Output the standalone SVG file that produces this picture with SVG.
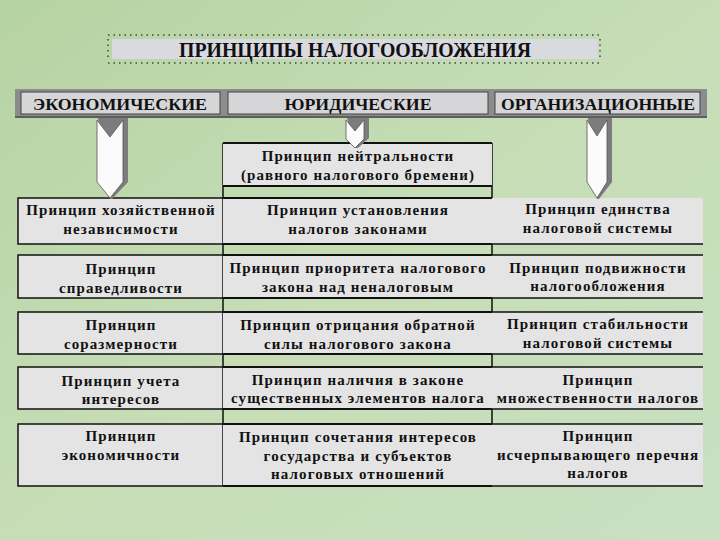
<svg xmlns="http://www.w3.org/2000/svg" width="720" height="540" viewBox="0 0 720 540">
<defs>
<linearGradient id="bg" x1="0" y1="0" x2="1" y2="1">
<stop offset="0" stop-color="#b6d3a3"/>
<stop offset="0.5" stop-color="#c6ddb6"/>
<stop offset="1" stop-color="#c9e0c2"/>
</linearGradient>
<style>
.t{font-family:"Liberation Serif","Times New Roman",serif;font-weight:bold;font-size:15px;fill:#111;text-anchor:middle;letter-spacing:1.1px}
.h{font-size:17px;letter-spacing:0}
.ttl{font-size:20px;letter-spacing:0}
.cell{fill:#e4e4e4;stroke:#111;stroke-width:1.5}
.mcell{fill:#e4e4e4;stroke:none}
.rcell{fill:#e4e4e4;stroke:none}
.ln{stroke:#111;stroke-width:1.5;fill:none}
.tk{stroke:#111;stroke-width:2.2;fill:none}
.hbox{fill:#d6d6d8;stroke:#444;stroke-width:1}
.side{fill:#7c7c7c}
.front{fill:#fbfbfb;stroke:#555;stroke-width:0.8}
.dots{stroke:#444;stroke-width:1.5;stroke-dasharray:1.5 4;fill:none}
</style>
</defs>
<rect width="720" height="540" fill="url(#bg)"/>

<g id="title">
<rect x="112" y="39" width="486" height="20" fill="#d9d9e0"/>
<path class="dots" d="M108 35H600M108 63H600M108 39V60M600 39V60"/>
<text class="t ttl" x="355" y="57" textLength="352" lengthAdjust="spacingAndGlyphs">ПРИНЦИПЫ НАЛОГООБЛОЖЕНИЯ</text>
</g>

<g id="header-bar">
<rect x="15" y="89" width="692" height="29" fill="#8c8c8c"/>
<rect x="15" y="116" width="692" height="2" fill="#5e5e5e"/>
</g>
<g id="h-econ">
<rect class="hbox" x="21" y="92" width="199" height="22"/>
<text class="t h" x="120" y="110" textLength="174" lengthAdjust="spacingAndGlyphs">ЭКОНОМИЧЕСКИЕ</text>
</g>
<g id="h-jur">
<rect class="hbox" x="228" y="92" width="260" height="22"/>
<text class="t h" x="358" y="110" textLength="147" lengthAdjust="spacingAndGlyphs">ЮРИДИЧЕСКИЕ</text>
</g>
<g id="h-org">
<rect class="hbox" x="495" y="92" width="205" height="22"/>
<text class="t h" x="598" y="110" textLength="194" lengthAdjust="spacingAndGlyphs">ОРГАНИЗАЦИОННЫЕ</text>
</g>

<g id="grid-lines">
<path class="ln" d="M223 143V486M492 143V486"/>
</g>

<g id="m0">
<rect class="mcell" x="223" y="143" width="269" height="43"/>
<path class="tk" d="M223 143H492M223 186H492"/>
<text class="t" x="358" y="161">Принцип нейтральности</text>
<text class="t" x="358" y="180">(равного налогового бремени)</text>
</g>

<g id="l1"><rect class="cell" x="18" y="198" width="205" height="46"/>
<text class="t" x="121" y="215">Принцип хозяйственной</text>
<text class="t" x="121" y="234">независимости</text></g>
<g id="m1"><rect class="mcell" x="223" y="198" width="269" height="46"/>
<path class="tk" d="M223 198H492M223 244H492"/>
<text class="t" x="358" y="215">Принцип установления</text>
<text class="t" x="358" y="234">налогов законами</text></g>
<g id="r1"><rect class="rcell" x="492" y="198" width="211" height="46"/>
<path class="ln" d="M492 244H703"/>
<text class="t" x="598" y="214">Принцип единства</text>
<text class="t" x="598" y="233">налоговой системы</text></g>

<g id="l2"><rect class="cell" x="18" y="255" width="205" height="43"/>
<text class="t" x="121" y="274">Принцип</text>
<text class="t" x="121" y="293">справедливости</text></g>
<g id="m2"><rect class="mcell" x="223" y="255" width="269" height="43"/>
<path class="tk" d="M223 255H492M223 298H492"/>
<text class="t" x="358" y="273">Принцип приоритета налогового</text>
<text class="t" x="358" y="292">закона над неналоговым</text></g>
<g id="r2"><rect class="rcell" x="492" y="255" width="211" height="43"/>
<path class="ln" d="M492 255H703M492 298H703"/>
<text class="t" x="598" y="273">Принцип подвижности</text>
<text class="t" x="598" y="291">налогообложения</text></g>

<g id="l3"><rect class="cell" x="18" y="312" width="205" height="42"/>
<text class="t" x="121" y="330">Принцип</text>
<text class="t" x="121" y="349">соразмерности</text></g>
<g id="m3"><rect class="mcell" x="223" y="312" width="269" height="42"/>
<path class="tk" d="M223 312H492M223 354H492"/>
<text class="t" x="358" y="330">Принцип отрицания обратной</text>
<text class="t" x="358" y="349">силы налогового закона</text></g>
<g id="r3"><rect class="rcell" x="492" y="312" width="211" height="42"/>
<path class="ln" d="M492 312H703M492 354H703"/>
<text class="t" x="598" y="329">Принцип стабильности</text>
<text class="t" x="598" y="348">налоговой системы</text></g>

<g id="l4"><rect class="cell" x="18" y="367" width="205" height="42"/>
<text class="t" x="121" y="386">Принцип учета</text>
<text class="t" x="121" y="404">интересов</text></g>
<g id="m4"><rect class="mcell" x="223" y="367" width="269" height="42"/>
<path class="tk" d="M223 367H492M223 409H492"/>
<text class="t" x="358" y="385">Принцип наличия в законе</text>
<text class="t" x="358" y="403">существенных элементов налога</text></g>
<g id="r4"><rect class="rcell" x="492" y="367" width="211" height="42"/>
<path class="ln" d="M492 367H703M492 409H703"/>
<text class="t" x="598" y="385">Принцип</text>
<text class="t" x="598" y="403">множественности налогов</text></g>

<g id="l5"><rect class="cell" x="18" y="424" width="205" height="62"/>
<text class="t" x="121" y="441">Принцип</text>
<text class="t" x="121" y="460">экономичности</text></g>
<g id="m5"><rect class="mcell" x="223" y="424" width="269" height="62"/>
<path class="tk" d="M223 424H492M223 486H492"/>
<text class="t" x="358" y="442">Принцип сочетания интересов</text>
<text class="t" x="358" y="461">государства и субъектов</text>
<text class="t" x="358" y="479">налоговых отношений</text></g>
<g id="r5"><rect class="rcell" x="492" y="424" width="211" height="62"/>
<path class="ln" d="M492 424H703M492 486H703"/>
<text class="t" x="598" y="441">Принцип</text>
<text class="t" x="598" y="460">исчерпывающего перечня</text>
<text class="t" x="598" y="478">налогов</text></g>

<g id="connectors">
<polygon class="side" points="98,118 128,118 128,182 112,199 110,199"/>
<polygon class="front" points="97,120 110,137 123,120 123,182 110,198 97,182"/>
<polygon class="side" points="347,118 369,118 369,138 358,148 356,148"/>
<polygon class="front" points="346,120 355,131 364,120 364,139 355,148 346,139"/>
<polygon class="side" points="588,118 612,118 612,182 599,199 597,199"/>
<polygon class="front" points="587,120 597,136 607,120 607,182 597,198 587,182"/>
</g>
</svg>
